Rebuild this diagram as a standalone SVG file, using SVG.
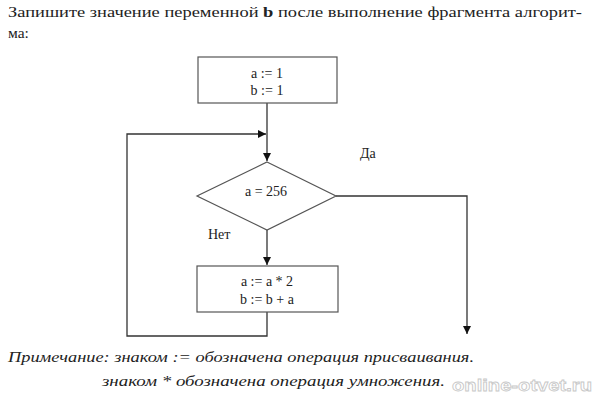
<svg xmlns="http://www.w3.org/2000/svg" width="597" height="400" viewBox="0 0 597 400" font-family="'Liberation Serif', 'Times New Roman', serif">
<defs>
<style>
.t{fill:#222}
.box{fill:#fff;stroke:#555;stroke-width:1.2}
.ln{fill:none;stroke:#333;stroke-width:1.3}
.nt{font-style:italic;fill:#222;font-size:15px}
</style>
<marker id="ah" viewBox="0 0 10 10" refX="10" refY="5" markerWidth="8" markerHeight="8" markerUnits="userSpaceOnUse" orient="auto">
<path d="M0,0 L10,5 L0,10 z" fill="#111"/>
</marker>
</defs>
<rect width="597" height="400" fill="#fff"/>
<text class="t" x="8" y="17" font-size="15.5" textLength="574" lengthAdjust="spacingAndGlyphs">Запишите значение переменной <tspan font-weight="bold">b</tspan> после выполнение фрагмента алгорит-</text>
<text class="t" x="8" y="38" font-size="15.5">ма:</text>
<g id="connectors">
<path class="ln" d="M267,103 V161" marker-end="url(#ah)"/>
<path class="ln" d="M267,312 V336 H127 V134 H266" marker-end="url(#ah)"/>
<path class="ln" d="M267,230 V265" marker-end="url(#ah)"/>
<path class="ln" d="M336,196 H467 V334" marker-end="url(#ah)"/>
<text class="t" x="360" y="158" font-size="14">Да</text>
<text class="t" x="208" y="239" font-size="14">Нет</text>
</g>
<g id="init">
<rect class="box" x="198" y="57" width="139" height="46"/>
<text class="t" x="267" y="78" font-size="14" text-anchor="middle">a := 1</text>
<text class="t" x="267" y="95" font-size="14" text-anchor="middle">b := 1</text>
</g>
<g id="cond">
<polygon class="box" points="267,162 336,196 267,230 197,196"/>
<text class="t" x="266" y="196" font-size="14" text-anchor="middle">a = 256</text>
</g>
<g id="body">
<rect class="box" x="197" y="266" width="141" height="46"/>
<text class="t" x="267" y="286" font-size="14" text-anchor="middle">a := a * 2</text>
<text class="t" x="267" y="304" font-size="14" text-anchor="middle">b := b + a</text>
</g>
<text class="nt" x="8" y="362" textLength="466" lengthAdjust="spacingAndGlyphs">Примечание: знаком := обозначена операция присваивания.</text>
<text class="nt" x="102" y="386" textLength="343" lengthAdjust="spacingAndGlyphs">знаком *  обозначена операция  умножения.</text>
<text x="452" y="391" font-family="'Liberation Sans', Arial, sans-serif" font-weight="bold" font-size="17" fill="#fff" stroke="#c8c8c8" stroke-width="0.8" textLength="140" lengthAdjust="spacingAndGlyphs">online-otvet.ru</text>
</svg>
